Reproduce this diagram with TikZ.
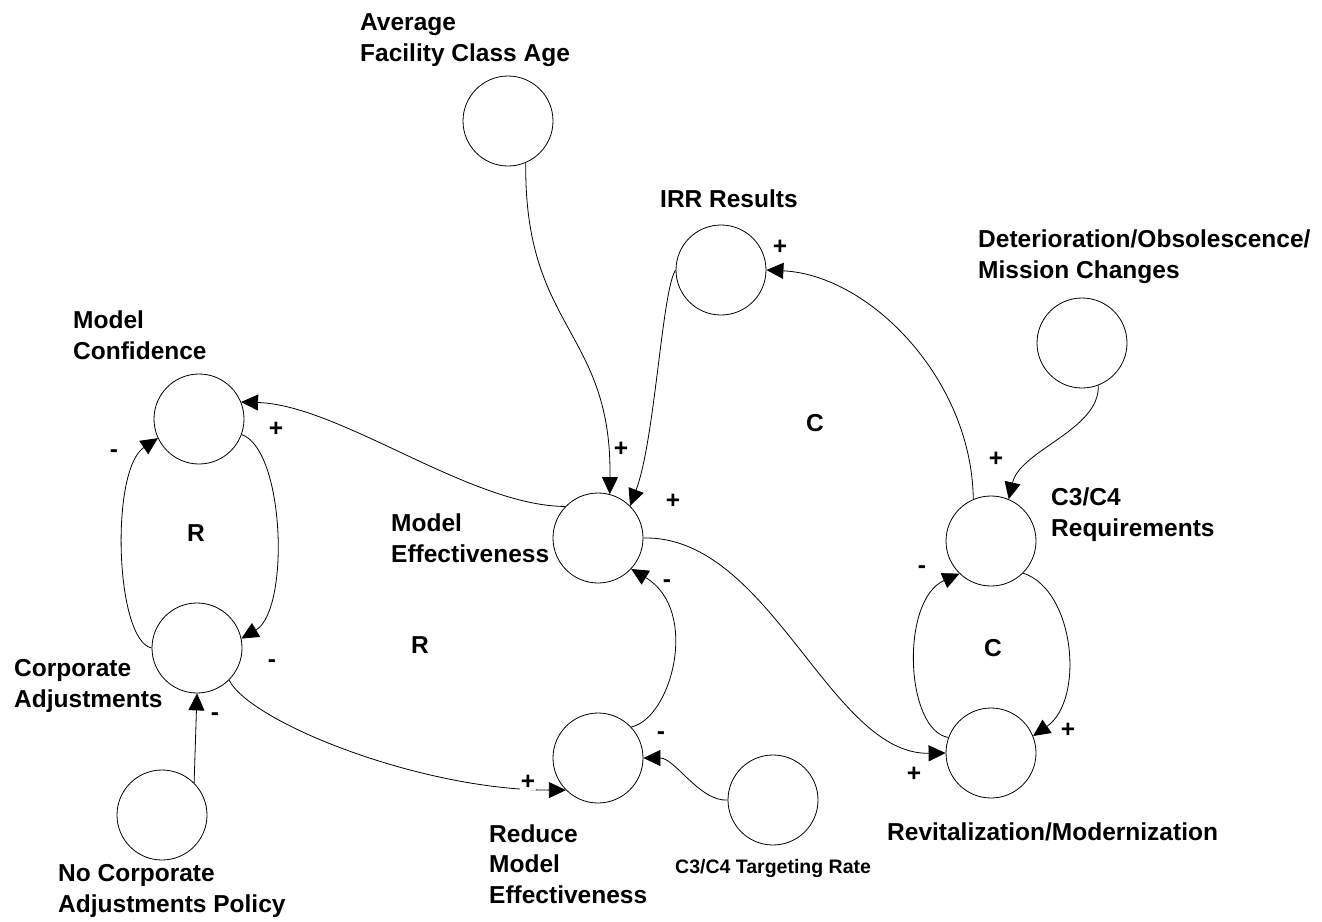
\documentclass[tikz,border=0pt]{standalone}
\usepackage{fontspec}
\setmainfont{Liberation Sans}
\usetikzlibrary{arrows.meta}

\begin{document}
\begin{tikzpicture}[
  x=1pt, y=-1pt,
  font=\fontsize{24.5}{30.5}\selectfont\bfseries,
  var/.style={draw=black, circle, minimum size=90pt, inner sep=0pt, line width=0.8pt},
  lbl/.style={anchor=base west, align=left, inner sep=0pt},
  sgn/.style={inner sep=1pt},
  e/.style={draw=black, line width=0.8pt, -{Triangle[length=17pt, width=16pt]}}
]
\useasboundingbox (0,0) rectangle (1322,921);

% stocks and drivers
\node[var] (avgage) at (508,121)     {};
\node[var] (irr) at (721,270)        {};
\node[var] (deterior) at (1082,343)  {};
\node[var] (modelconf) at (199,419)  {};
\node[var] (modeleff) at (598,538)   {};
\node[var] (c3c4req) at (991,541)    {};
\node[var] (corpadj) at (197,648)    {};
\node[var] (reduceeff) at (598,758)  {};
\node[var] (targetrate) at (773,800) {};
\node[var] (revital) at (991,753)    {};
\node[var] (nocorppol) at (162,815)  {};

% variable names (placed by the baseline of their last line)
\node[lbl] (avgage-l) at (360,61)      {Average\\Facility Class Age};
\node[lbl] (irr-l) at (660,207)        {IRR Results};
\node[lbl] (deterior-l) at (978,278)   {Deterioration/Obsolescence/\\Mission Changes};
\node[lbl] (modelconf-l) at (73,359)   {Model\\Confidence};
\node[lbl] (modeleff-l) at (391,562)   {Model\\Effectiveness};
\node[lbl] (c3c4req-l) at (1051,536)   {C3/C4\\Requirements};
\node[lbl] (corpadj-l) at (14,707)     {Corporate\\Adjustments};
\node[lbl] (nocorppol-l) at (58,912)   {No Corporate\\Adjustments Policy};
\node[lbl] (reduceeff-l) at (489,903)  {Reduce\\Model\\Effectiveness};
\node[lbl, font=\fontsize{19.5}{24}\selectfont\bfseries] (targetrate-l) at (675,873) {C3/C4 Targeting Rate};
\node[lbl] (revital-l) at (887,840)    {Revitalization/Modernization};

% loop markers
\node (loop-r1) at (196,533) {R};
\node (loop-r2) at (420,645) {R};
\node (loop-c1) at (815,423) {C};
\node (loop-c2) at (993,648) {C};

% causal links
\draw[e] (avgage.293) .. controls (524,330) and (612,330) .. (modeleff.75);
\draw[e] (irr.180) .. controls (662,290) and (655,440) .. (modeleff.45);
\draw[e] (modeleff.136) .. controls (470,506) and (340,405) .. (modelconf.22);
\draw[e] (modelconf.-20) .. controls (285,450) and (290,610) .. (corpadj.12);
\draw[e] (corpadj.180) .. controls (115,640) and (110,470) .. (modelconf.205);
\draw[e] (nocorppol.45) -- (corpadj.south);
\draw[e] (corpadj.-45) .. controls (250,722) and (420,790) .. (reduceeff.225);
\draw[e] (reduceeff.43) .. controls (672,718) and (700,610) .. (modeleff.317);
\draw[e] (targetrate.180) .. controls (700,802) and (675,758) .. (reduceeff.0);
\draw[e] (modeleff.0) .. controls (770,535) and (830,755) .. (revital.180);
\draw[e] (c3c4req.113) .. controls (972,380) and (870,275) .. (irr.0);
\draw[e] (deterior.291) .. controls (1100,430) and (1020,450) .. (c3c4req.67);
\draw[e] (revital.160) .. controls (905,730) and (900,600) .. (c3c4req.226);
\draw[e] (c3c4req.-45) .. controls (1075,590) and (1085,700) .. (revital.22);

% polarities
\node[sgn] (p-mc-l) at (114,454)  {-};
\node[sgn] (p-mc-r) at (276,429)  {+};
\node[sgn] (p-ca-r) at (272,664)  {-};
\node[sgn] (p-ca-b) at (215,717)  {-};
\node[sgn] (p-me-a) at (621,449)  {+};
\node[sgn] (p-me-i) at (673,501)  {+};
\node[sgn, fill=white] (p-me-r) at (667,584) {-};
\node[sgn] (p-re-t) at (661,736)  {-};
\node[sgn, fill=white] (p-re-c) at (528,782) {+};
\node[sgn] (p-irr) at (780,247)   {+};
\node[sgn] (p-req-d) at (996,459) {+};
\node[sgn] (p-req-r) at (922,570) {-};
\node[sgn, fill=white] (p-rev-q) at (1068,730) {+};
\node[sgn] (p-rev-m) at (914,774) {+};

\end{tikzpicture}
\end{document}
